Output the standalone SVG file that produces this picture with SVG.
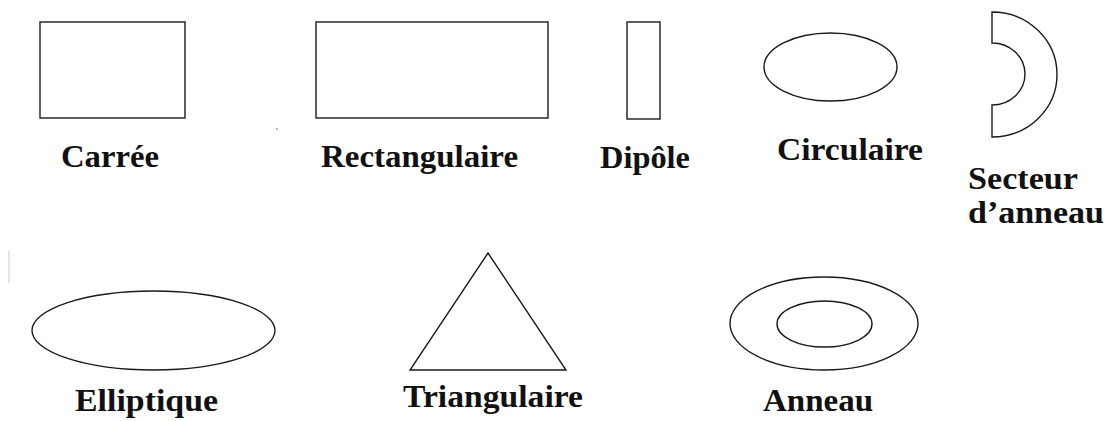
<svg xmlns="http://www.w3.org/2000/svg" width="1109" height="421" viewBox="0 0 1109 421">
<style>
.s{fill:#fff;stroke:#1a1a1a;stroke-width:1.4}
.t{font-weight:bold;font-size:32px;fill:#111}
</style>
<rect width="1109" height="421" fill="#fff"/>
<g font-family="'Liberation Serif', 'DejaVu Serif', serif">
<g id="carree"><rect class="s" x="40" y="22" width="145" height="96"/><text class="t" x="61" y="167" textLength="98" lengthAdjust="spacingAndGlyphs">Carrée</text></g>
<g id="rectangulaire"><rect class="s" x="316" y="22" width="232" height="96"/><text class="t" x="321" y="167" textLength="197" lengthAdjust="spacingAndGlyphs">Rectangulaire</text></g>
<g id="dipole"><rect class="s" x="627" y="22" width="33" height="97"/><text class="t" x="600" y="168" textLength="90" lengthAdjust="spacingAndGlyphs">Dipôle</text></g>
<g id="circulaire"><ellipse class="s" cx="830.5" cy="67" rx="66.5" ry="34"/><text class="t" x="777" y="160" textLength="146" lengthAdjust="spacingAndGlyphs">Circulaire</text></g>
<g id="secteur"><path class="s" d="M992,12 A65,62.5 0 0 1 992,137 L992,105 A33,31 0 0 0 992,43 Z"/><text class="t" x="968" y="189" textLength="110" lengthAdjust="spacingAndGlyphs">Secteur</text><text class="t" x="968" y="223" textLength="136" lengthAdjust="spacingAndGlyphs">d’anneau</text></g>
<g id="elliptique"><ellipse class="s" cx="153.5" cy="330.5" rx="121.5" ry="39.5"/><text class="t" x="75" y="411" textLength="143" lengthAdjust="spacingAndGlyphs">Elliptique</text></g>
<g id="triangulaire"><polygon class="s" points="488,253 566,370 410,370"/><text class="t" x="403" y="407" textLength="180" lengthAdjust="spacingAndGlyphs">Triangulaire</text></g>
<g id="anneau"><ellipse class="s" cx="824" cy="323.5" rx="94" ry="46.5"/><ellipse class="s" cx="824.5" cy="324" rx="47.5" ry="23"/><text class="t" x="763" y="411" textLength="110" lengthAdjust="spacingAndGlyphs">Anneau</text></g>
</g>
<g id="connectors"/>
<line x1="9" y1="251" x2="9" y2="283" stroke="#ccc" stroke-width="1"/>
<rect x="276" y="128" width="2" height="2" fill="#bbb"/>
</svg>
